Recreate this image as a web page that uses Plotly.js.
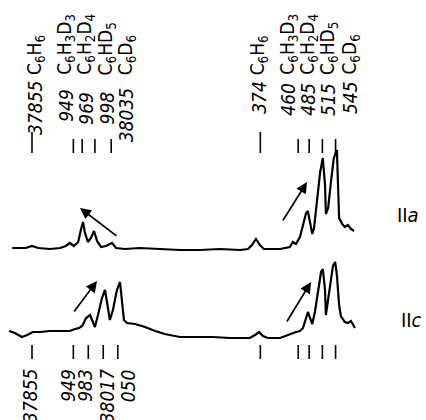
<!DOCTYPE html>
<html>
<head>
<meta charset="utf-8">
<script src="https://cdn.plot.ly/plotly-3.0.1.min.js"></script>
<style>html,body{margin:0;padding:0;background:#fff;}#chart{width:426px;height:420px;}</style>
</head>
<body>
<div id="chart"></div>
<script>
// ---- DATA ----
// Spectrum IIa (upper): wavenumber (cm^-1) and intensity above its baseline
const nuIIa = [37810,37828,37841,37855,37869,37896,37919,37932,37941,37950,37960,37966,37971,37975,37982,37989,37996,38003,38012,38023,38037,38046,38066,38100,38146,38191,38237,38282,38328,38346,38355,38364,38373,38382,38419,38435,38441,38448,38455,38464,38471,38478,38482,38487,38492,38496,38503,38510,38516,38521,38523,38528,38535,38541,38548,38550,38553,38560,38566,38573,38580,38587];
const intIIa = [1,1,1,3,1,0,1,3,6,3,7,19,27,17,7,11,18,8,2,3,6,1,0,1,0,-1,-1,0,-1,0,4,10,4,0,0,1,2,7,5,12,23,36,38,27,15,21,49,77,91,64,35,41,69,91,99,64,31,25,22,24,20,18];
// Spectrum IIc (lower)
const nuIIc = [37803,37816,37832,37844,37857,37873,37896,37919,37941,37953,37962,37969,37978,37987,37994,37998,38005,38014,38021,38025,38032,38039,38048,38055,38059,38064,38071,38089,38112,38135,38157,38191,38225,38266,38305,38350,38362,38371,38380,38391,38419,38441,38455,38464,38471,38478,38482,38487,38492,38498,38505,38512,38516,38521,38523,38528,38535,38539,38544,38548,38553,38557,38566,38573,38580,38589];
const intIIc = [6,4,0,2,5,5,6,6,6,8,9,11,19,22,15,10,22,39,47,37,17,27,47,55,37,17,14,13,10,6,3,0,0,0,-1,-1,2,5,1,-1,-1,3,5,6,9,19,25,19,13,25,47,65,68,47,22,37,59,71,75,62,32,21,15,14,16,9];
// Band positions and labels (upper)
const topNu = [37855,37949,37969,37998,38035,38374,38460,38485,38515,38545];
const topNumbers = ['37855','949','969','998','38035','374','460','485','515','545'];
const topFormulas = ['C<sub>6</sub>H<sub>6</sub>','C<sub>6</sub>H<sub>3</sub>D<sub>3</sub>','C<sub>6</sub>H<sub>2</sub>D<sub>4</sub>','C<sub>6</sub>HD<sub>5</sub>','C<sub>6</sub>D<sub>6</sub>',
                     'C<sub>6</sub>H<sub>6</sub>','C<sub>6</sub>H<sub>3</sub>D<sub>3</sub>','C<sub>6</sub>H<sub>2</sub>D<sub>4</sub>','C<sub>6</sub>HD<sub>5</sub>','C<sub>6</sub>D<sub>6</sub>'];
// Band positions and labels (lower)
const bottomNu = [37855,37949,37983,38017,38050,38374,38460,38485,38515,38545];
const bottomNumbers = ['37855','949','983','38017','050'];
const spectrumNames = ['II<i>a</i>','II<i>c</i>'];

// ---- LAYOUT CONSTANTS ----
const W = 426, H = 420;
const baseIIa = 171, baseIIc = 83;           // baseline offsets (y units = px)
const py = p => 1 - p / H;                   // pixel row -> paper y
const px = p => p / W;
const fam = 'DejaVu Sans Condensed, DejaVu Sans, sans-serif';
const numFont = {family:fam, size:19, color:'#000', style:'italic'};
const formFont = {family:fam, size:19, color:'#000'};
const topDx = [3,-8,3,12,15,-2,-10,-1,6,14];
const topNumTop = [80,88,91,90,87,80,82,82,82,80];
const bottomDx = [-2,-6,-4,4,10];

const traces = [
  {x: nuIIa, y: intIIa.map(v => v + baseIIa), mode:'lines', line:{color:'#000', width:2.2}, hoverinfo:'skip'},
  {x: nuIIc, y: intIIc.map(v => v + baseIIc), mode:'lines', line:{color:'#000', width:2.2}, hoverinfo:'skip'}
];

const shapes = [];
topNu.forEach((v,i) => {
  const long = (i === 0 || i === 5);
  shapes.push({type:'line', xref:'x', yref:'paper', x0:v, x1:v, y0:py(153), y1:py(long ? 132 : 139), line:{color:'#000', width:1.6}});
});
bottomNu.forEach(v => {
  shapes.push({type:'line', xref:'x', yref:'paper', x0:v, x1:v, y0:py(359), y1:py(345), line:{color:'#000', width:1.6}});
});

const annotations = [];
topNu.forEach((v,i) => {
  annotations.push({xref:'x', yref:'paper', x:v, xshift:topDx[i], y:py(topNumTop[i]), text:topNumbers[i], textangle:-90,
    xanchor:'center', yanchor:'top', showarrow:false, font:numFont, borderpad:0});
  annotations.push({xref:'x', yref:'paper', x:v, xshift:topDx[i], y:py(76), text:topFormulas[i], textangle:-90,
    xanchor:'center', yanchor:'bottom', showarrow:false, font:formFont, borderpad:0});
});
bottomNumbers.forEach((t,i) => {
  annotations.push({xref:'x', yref:'paper', x:bottomNu[i], xshift:bottomDx[i], y:py(368), text:t, textangle:-90,
    xanchor:'center', yanchor:'top', showarrow:false, font:numFont, borderpad:0});
});
annotations.push({xref:'paper', yref:'paper', x:px(408), y:py(215), text:spectrumNames[0], showarrow:false, font:{family:fam, size:20, color:'#000'}, xanchor:'center', yanchor:'middle'});
annotations.push({xref:'paper', yref:'paper', x:px(411), y:py(320), text:spectrumNames[1], showarrow:false, font:{family:fam, size:20, color:'#000'}, xanchor:'center', yanchor:'middle'});

// arrows: [headX, headY, tailDX, tailDY] in px
const arrows = [[80,208,38,29],[307,182,-25,40],[97,281,-24,32],[311,282,-25,41]];
arrows.forEach(a => {
  annotations.push({xref:'paper', yref:'paper', x:px(a[0]), y:py(a[1]), ax:a[2], ay:a[3], text:'', showarrow:true,
    arrowhead:2, arrowsize:1.3, arrowwidth:1.7, arrowcolor:'#000', standoff:0});
});

const layout = {
  width:W, height:H, margin:{l:0,r:0,t:0,b:0},
  paper_bgcolor:'#fff', plot_bgcolor:'#fff', showlegend:false,
  xaxis:{range:[37782.3, 38750.5], visible:false, fixedrange:true},
  yaxis:{range:[0, 420], visible:false, fixedrange:true},
  shapes: shapes, annotations: annotations
};
Plotly.newPlot('chart', traces, layout, {staticPlot:true, displayModeBar:false});
</script>
</body>
</html>
